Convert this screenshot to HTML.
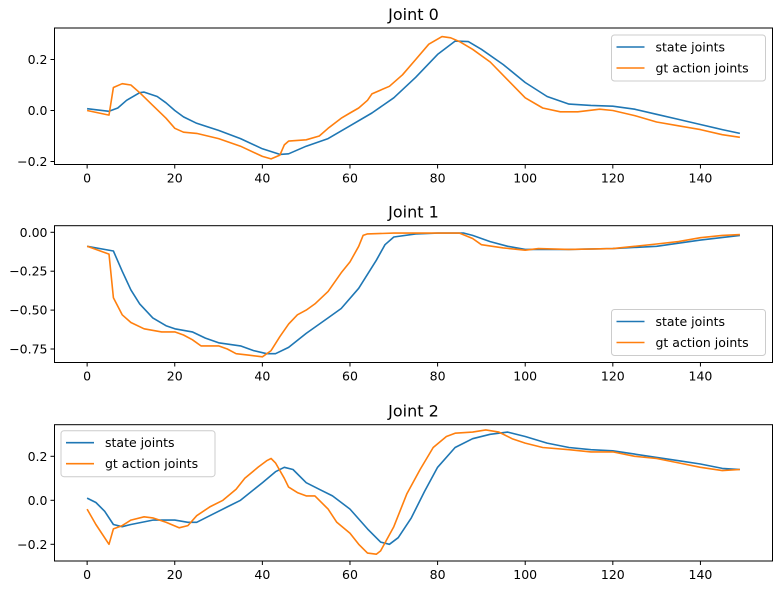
<!DOCTYPE html>
<html><head><meta charset="utf-8"><style>
body{margin:0;background:#fff;}
svg{display:block;font-family:"DejaVu Sans","Liberation Sans",sans-serif;}
</style></head><body>
<svg id="chart" width="781" height="590" viewBox="0 0 781 590" xmlns="http://www.w3.org/2000/svg"></svg>
<script>
// ---- data ----
const xTicks = [0,20,40,60,80,100,120,140];
const titles = ["Joint 0","Joint 1","Joint 2"];
const seriesNames = ["state joints","gt action joints"];
const yTicks0 = [0.2,0.0,-0.2];
const yTickLabels0 = ["0.2","0.0","\u22120.2"];
const yTicks1 = [0,-0.25,-0.5,-0.75];
const yTickLabels1 = ["0.00","\u22120.25","\u22120.50","\u22120.75"];
const yTicks2 = [0.2,0.0,-0.2];
const yTickLabels2 = ["0.2","0.0","\u22120.2"];

const j0StateX = [0,5,7,9,12,13,16,18,20,22,25,30,35,40,44,46,50,55,60,65,70,75,80,84,87,90,95,100,105,110,115,120,125,130,135,140,145,149];
const j0StateY = [0.007,-0.003,0.01,0.04,0.07,0.072,0.055,0.03,0.0,-0.025,-0.05,-0.078,-0.11,-0.15,-0.172,-0.17,-0.14,-0.11,-0.06,-0.01,0.05,0.13,0.22,0.272,0.27,0.24,0.18,0.11,0.055,0.025,0.02,0.017,0.005,-0.015,-0.035,-0.055,-0.075,-0.09];
const j0ActX = [0,5,6,8,10,12,15,18,20,22,25,30,35,40,42,44,45,46,50,53,55,58,60,62,64,65,67,69,72,75,78,81,83,85,88,92,96,100,104,108,112,117,120,125,130,135,140,145,149];
const j0ActY = [0.0,-0.018,0.09,0.105,0.1,0.07,0.02,-0.03,-0.07,-0.085,-0.09,-0.11,-0.14,-0.18,-0.19,-0.175,-0.135,-0.12,-0.115,-0.1,-0.07,-0.03,-0.01,0.01,0.04,0.065,0.08,0.095,0.14,0.2,0.26,0.29,0.285,0.27,0.24,0.19,0.12,0.05,0.01,-0.005,-0.005,0.005,0.0,-0.02,-0.045,-0.06,-0.075,-0.095,-0.105];

const j1StateX = [0,6,8,10,12,15,18,20,24,27,30,35,38,41,43,46,50,55,58,62,66,68,70,75,80,86,88,92,96,100,110,120,130,140,149];
const j1StateY = [-0.09,-0.12,-0.25,-0.37,-0.46,-0.55,-0.6,-0.62,-0.64,-0.68,-0.71,-0.73,-0.76,-0.78,-0.78,-0.74,-0.65,-0.55,-0.49,-0.36,-0.18,-0.08,-0.03,-0.01,-0.005,-0.005,-0.02,-0.06,-0.09,-0.11,-0.11,-0.105,-0.09,-0.05,-0.02];
const j1ActX = [0,5,6,8,10,13,17,20,22,24,26,30,32,34,37,40,42,44,46,48,50,52,55,58,60,62,63,64,70,80,85,88,90,95,100,103,110,120,125,130,135,140,145,149];
const j1ActY = [-0.09,-0.14,-0.42,-0.53,-0.58,-0.62,-0.64,-0.64,-0.66,-0.69,-0.73,-0.73,-0.75,-0.78,-0.79,-0.8,-0.76,-0.67,-0.59,-0.53,-0.5,-0.46,-0.38,-0.26,-0.19,-0.09,-0.02,-0.01,-0.005,-0.005,-0.005,-0.04,-0.08,-0.1,-0.115,-0.105,-0.11,-0.105,-0.09,-0.075,-0.06,-0.035,-0.02,-0.015];

const j2StateX = [0,2,4,6,8,10,15,20,23,25,28,32,35,40,43,45,47,50,53,56,60,64,67,69,71,74,77,80,84,88,92,96,100,105,110,115,120,125,130,135,140,145,149];
const j2StateY = [0.01,-0.01,-0.05,-0.11,-0.12,-0.11,-0.09,-0.09,-0.1,-0.1,-0.07,-0.03,0.0,0.08,0.13,0.15,0.14,0.08,0.05,0.02,-0.04,-0.13,-0.19,-0.2,-0.17,-0.08,0.04,0.15,0.24,0.28,0.3,0.31,0.29,0.26,0.24,0.23,0.225,0.21,0.195,0.18,0.165,0.145,0.14];
const j2ActX = [0,2,5,6,8,10,13,15,18,21,23,25,28,31,34,36,39,41,42,43,45,46,48,50,52,53,55,57,60,62,64,66,67,70,73,76,79,82,84,88,91,94,97,100,104,110,115,120,125,130,135,140,145,149];
const j2ActY = [-0.04,-0.11,-0.2,-0.13,-0.115,-0.09,-0.075,-0.08,-0.1,-0.125,-0.115,-0.07,-0.03,0.0,0.05,0.1,0.15,0.18,0.19,0.17,0.1,0.06,0.035,0.02,0.02,0.0,-0.04,-0.1,-0.15,-0.2,-0.24,-0.245,-0.23,-0.12,0.03,0.14,0.24,0.29,0.305,0.31,0.32,0.31,0.28,0.26,0.24,0.23,0.22,0.22,0.2,0.19,0.17,0.15,0.135,0.14];

// ---- layout ----
const svg = document.getElementById('chart');
const NS = 'http://www.w3.org/2000/svg';
const X0 = 54.5, X1 = 772.5, XMIN = -7.45, XMAX = 156.45;
const panels = [
  {top:28, bot:164.5, y0:110.5, k:255, ticks:yTicks0, labels:yTickLabels0, sx:[j0StateX,j0ActX], sy:[j0StateY,j0ActY], legend:'ur'},
  {top:225.7, bot:362.5, y0:232.3, k:155.6, ticks:yTicks1, labels:yTickLabels1, sx:[j1StateX,j1ActX], sy:[j1StateY,j1ActY], legend:'lr'},
  {top:424.7, bot:561, y0:500.3, k:220, ticks:yTicks2, labels:yTickLabels2, sx:[j2StateX,j2ActX], sy:[j2StateY,j2ActY], legend:'ul'}
];
const colors = ['#1f77b4','#ff7f0e'];
function xs(v){return X0 + (v - XMIN) * (X1 - X0) / (XMAX - XMIN);}
function mk(tag, attrs, parent){const e=document.createElementNS(NS,tag);for(const k in attrs)e.setAttribute(k,attrs[k]);(parent||svg).appendChild(e);return e;}

panels.forEach((p, i) => {
  const g = mk('g', {});
  
  
  const ys = v => p.y0 - v * p.k;
  const t = mk('text', {x:(X0+X1)/2, y:p.top-8, 'text-anchor':'middle', 'font-size':'16', fill:'#000'}, g);
  t.textContent = titles[i];
  
  
  for (let s = 0; s < 2; s++) {
    const xa = p.sx[s], ya = p.sy[s];
    const d = xa.map((v, j) => (j ? 'L' : 'M') + xs(v).toFixed(1) + ',' + ys(ya[j]).toFixed(1)).join('');
    const path = mk('path', {d:d, fill:'none', stroke:colors[s], 'stroke-width':'1.6', 'stroke-linejoin':'round'}, g);
    
    
  }
  const fr = mk('rect', {x:X0, y:p.top, width:X1-X0, height:p.bot-p.top, fill:'none', stroke:'#000', 'stroke-width':'1'}, g);
  
  
  xTicks.forEach(v => {
    const x = xs(v);
    mk('line', {x1:x, x2:x, y1:p.bot, y2:p.bot+4, stroke:'#000'}, g);
    const tl = mk('text', {x:x, y:p.bot+18, 'text-anchor':'middle', 'font-size':'12.5', fill:'#000'}, g);
    tl.textContent = v;
    
    
  });
  p.ticks.forEach((v, j) => {
    const y = ys(v);
    mk('line', {x1:X0-4, x2:X0, y1:y, y2:y, stroke:'#000'}, g);
    const tl = mk('text', {x:X0-7, y:y+4.5, 'text-anchor':'end', 'font-size':'12.5', fill:'#000'}, g);
    tl.textContent = p.labels[j];
    
    
  });
  let lx, ly;
  if (p.legend === 'ur') { lx = 611.5; ly = p.top + 7; }
  else if (p.legend === 'lr') { lx = 611.5; ly = p.bot - 53; }
  else { lx = 61; ly = p.top + 6; }
  const lg = mk('g', {}, g);
  
  
  mk('rect', {x:lx, y:ly, width:154, height:46, rx:3, fill:'#fff', 'fill-opacity':'0.8', stroke:'#ccc'}, lg);
  seriesNames.forEach((n, s) => {
    const yy = ly + 12 + s * 21;
    const e = mk('g', {}, lg);
    
    
    mk('line', {x1:lx+5, x2:lx+33, y1:yy, y2:yy, stroke:colors[s], 'stroke-width':'1.6'}, e);
    const tx = mk('text', {x:lx+44, y:yy+4.5, 'font-size':'12.5', fill:'#000'}, e);
    tx.textContent = n;
  });
});
</script>
</body></html>
